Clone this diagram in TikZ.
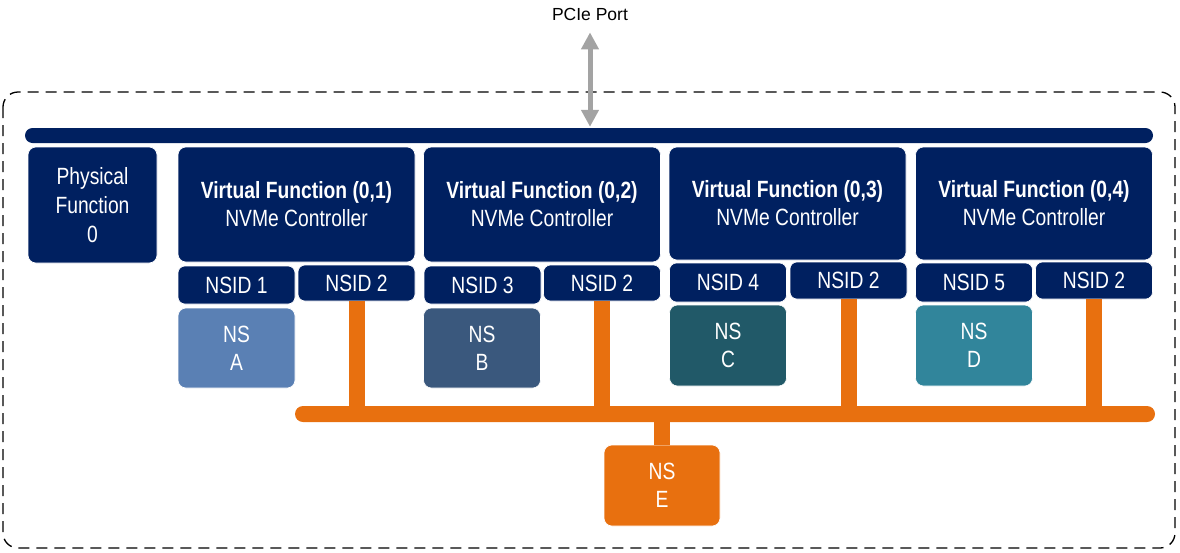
\documentclass[tikz,border=0pt]{standalone}
\usepackage{fontspec}
\setmainfont{Liberation Sans}
\newfontfamily\narrowfont[FakeStretch=0.82]{Liberation Sans}
\usetikzlibrary{arrows.meta}
\definecolor{navy}{HTML}{002060}
\definecolor{nsA}{HTML}{5A80B4}
\definecolor{nsB}{HTML}{3A587D}
\definecolor{nsC}{HTML}{215968}
\definecolor{nsD}{HTML}{31859B}
\definecolor{orng}{HTML}{E8700F}
\definecolor{grayarr}{HTML}{A3A3A3}
\begin{document}
\begin{tikzpicture}[x=1pt,y=-1pt,
  blk/.style={fill=#1, draw=white, line width=0.6pt, text=white, rounded corners=8pt, inner sep=0pt, align=center,
    font=\narrowfont\fontsize{23.5}{28}\selectfont},
  blk/.default=navy,
  nsid/.style={blk, rounded corners=7pt, minimum width=117pt},
  vf/.style={blk, minimum width=237pt, minimum height=115pt},
  nsbox/.style={blk=#1, minimum width=117pt, minimum height=80pt},
  ostem/.style={draw=orng, line width=16pt},
  arr/.style={draw=grayarr, line width=5pt, {Triangle[width=17pt,length=17pt]}-{Triangle[width=17pt,length=17pt]}},
  frame/.style={draw=black, line width=1.3pt, dash pattern=on 11pt off 7pt, rounded corners=15pt}
]
\useasboundingbox (0,0) rectangle (1180,552);

% outer dashed frame
\draw[frame] (3,92) rectangle (1175,548);

% PCIe port
\node[inner sep=0pt, font=\fontsize{17.5}{20}\selectfont] (pcie) at (590,14) {PCIe Port};

% host bus
\node[fill=navy, rounded corners=7.5pt, minimum width=1128pt, minimum height=15pt, inner sep=0pt] (hbus) at (589,135.5) {};
\draw[arr] ([yshift=-12pt]pcie.south) -- ([yshift=1pt]pcie.south |- hbus.north);

% physical function
\node[blk, font=\narrowfont\fontsize{23.5}{29}\selectfont, minimum width=129pt, minimum height=116pt] (pf) at (92.5,205) {Physical\\Function\\0};

% virtual functions
\node[vf] (vf1) at (296.5,204.5) {{\bfseries Virtual Function (0,1)}\\NVMe Controller};
\node[vf] (vf2) at (542,204.5) {{\bfseries Virtual Function (0,2)}\\NVMe Controller};
\node[vf, minimum height=113pt] (vf3) at (787.5,203.5) {{\bfseries Virtual Function (0,3)}\\NVMe Controller};
\node[vf, minimum height=113pt] (vf4) at (1034,203.5) {{\bfseries Virtual Function (0,4)}\\NVMe Controller};

% NSID boxes
\node[nsid, minimum height=38pt] (i1) at (236.5,285) {NSID 1};
\node[nsid, minimum height=36pt] (s1) at (356.5,283) {NSID 2};
\node[nsid, minimum height=38pt] (i2) at (482.5,285) {NSID 3};
\node[nsid, minimum height=36pt] (s2) at (602,283) {NSID 2};
\node[nsid, minimum height=39pt] (i3) at (728,282.5) {NSID 4};
\node[nsid, minimum height=37pt] (s3) at (848.5,280.5) {NSID 2};
\node[nsid, minimum height=39pt] (i4) at (974,282.5) {NSID 5};
\node[nsid, minimum height=37pt] (s4) at (1094,280.5) {NSID 2};

% private namespaces
\node[nsbox=nsA] (nsa) at (236.5,348) {NS\\A};
\node[nsbox=nsB] (nsb) at (482,348) {NS\\B};
\node[nsbox=nsC, minimum height=81pt] (nsc) at (728,345.5) {NS\\C};
\node[nsbox=nsD, minimum height=81pt] (nsd) at (974,345.5) {NS\\D};

% shared namespace bus
\node[fill=orng, rounded corners=8pt, minimum width=860pt, minimum height=16pt, inner sep=0pt] (obus) at (725,414) {};
\draw[ostem] (s1.south) -- (s1.south |- obus.north);
\draw[ostem] (s2.south) -- (s2.south |- obus.north);
\draw[ostem] (s3.south) -- (s3.south |- obus.north);
\draw[ostem] (s4.south) -- (s4.south |- obus.north);

% shared namespace
\node[blk=orng, minimum width=116pt, minimum height=81pt] (nse) at (662,485.5) {NS\\E};
\draw[ostem] (nse.north |- obus.south) -- (nse.north);
\end{tikzpicture}
\end{document}
